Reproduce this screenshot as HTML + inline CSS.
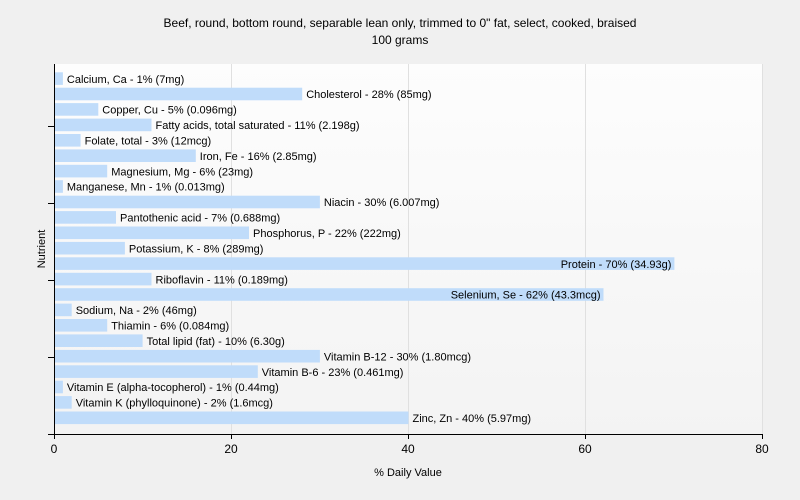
<!DOCTYPE html>
<html><head><meta charset="utf-8"><style>body{margin:0;background:#f0f0f0}svg{display:block;font-family:"Liberation Sans",sans-serif}</style></head><body>
<svg width="800" height="500" xmlns="http://www.w3.org/2000/svg">
<defs><linearGradient id="g" x1="0" y1="0" x2="0" y2="1"><stop offset="0" stop-color="#fdfdfd"/><stop offset="1" stop-color="#f3f3f3"/></linearGradient></defs>
<rect width="800" height="500" fill="#f0f0f0"/>
<rect x="54" y="64" width="709" height="370" fill="url(#g)"/>
<g stroke="#e0e0e0" stroke-width="1">
<line x1="231.5" y1="64" x2="231.5" y2="434"/><line x1="408.5" y1="64" x2="408.5" y2="434"/><line x1="585.5" y1="64" x2="585.5" y2="434"/><line x1="762.5" y1="64" x2="762.5" y2="434"/>
</g>
<text x="400" y="27" font-size="12" text-anchor="middle" fill="#000">Beef, round, bottom round, separable lean only, trimmed to 0" fat, select, cooked, braised</text>
<text x="400" y="44" font-size="12" text-anchor="middle" fill="#000">100 grams</text>
<g fill="#c0dcfa">
<rect x="55" y="72.3" width="7.9" height="12.6"/>
<rect x="55" y="87.7" width="247.2" height="12.6"/>
<rect x="55" y="103.1" width="43.3" height="12.6"/>
<rect x="55" y="118.6" width="96.5" height="12.6"/>
<rect x="55" y="134.0" width="25.6" height="12.6"/>
<rect x="55" y="149.4" width="140.8" height="12.6"/>
<rect x="55" y="164.8" width="52.2" height="12.6"/>
<rect x="55" y="180.2" width="7.9" height="12.6"/>
<rect x="55" y="195.7" width="264.9" height="12.6"/>
<rect x="55" y="211.1" width="61.0" height="12.6"/>
<rect x="55" y="226.5" width="194.0" height="12.6"/>
<rect x="55" y="241.9" width="69.9" height="12.6"/>
<rect x="55" y="257.3" width="619.4" height="12.6"/>
<rect x="55" y="272.8" width="96.5" height="12.6"/>
<rect x="55" y="288.2" width="548.5" height="12.6"/>
<rect x="55" y="303.6" width="16.7" height="12.6"/>
<rect x="55" y="319.0" width="52.2" height="12.6"/>
<rect x="55" y="334.4" width="87.6" height="12.6"/>
<rect x="55" y="349.9" width="264.9" height="12.6"/>
<rect x="55" y="365.3" width="202.8" height="12.6"/>
<rect x="55" y="380.7" width="7.9" height="12.6"/>
<rect x="55" y="396.1" width="16.7" height="12.6"/>
<rect x="55" y="411.5" width="353.5" height="12.6"/>
</g>
<g font-size="11" fill="#000">
<text x="66.9" y="82.8">Calcium, Ca - 1% (7mg)</text>
<text x="306.2" y="98.2">Cholesterol - 28% (85mg)</text>
<text x="102.3" y="113.6">Copper, Cu - 5% (0.096mg)</text>
<text x="155.5" y="129.1">Fatty acids, total saturated - 11% (2.198g)</text>
<text x="84.6" y="144.5">Folate, total - 3% (12mcg)</text>
<text x="199.8" y="159.9">Iron, Fe - 16% (2.85mg)</text>
<text x="111.2" y="175.3">Magnesium, Mg - 6% (23mg)</text>
<text x="66.9" y="190.7">Manganese, Mn - 1% (0.013mg)</text>
<text x="323.9" y="206.2">Niacin - 30% (6.007mg)</text>
<text x="120.0" y="221.6">Pantothenic acid - 7% (0.688mg)</text>
<text x="253.0" y="237.0">Phosphorus, P - 22% (222mg)</text>
<text x="128.9" y="252.4">Potassium, K - 8% (289mg)</text>
<text x="671.4" y="267.8" text-anchor="end">Protein - 70% (34.93g)</text>
<text x="155.5" y="283.3">Riboflavin - 11% (0.189mg)</text>
<text x="600.5" y="298.7" text-anchor="end">Selenium, Se - 62% (43.3mcg)</text>
<text x="75.7" y="314.1">Sodium, Na - 2% (46mg)</text>
<text x="111.2" y="329.5">Thiamin - 6% (0.084mg)</text>
<text x="146.6" y="344.9">Total lipid (fat) - 10% (6.30g)</text>
<text x="323.9" y="360.4">Vitamin B-12 - 30% (1.80mcg)</text>
<text x="261.8" y="375.8">Vitamin B-6 - 23% (0.461mg)</text>
<text x="66.9" y="391.2">Vitamin E (alpha-tocopherol) - 1% (0.44mg)</text>
<text x="75.7" y="406.6">Vitamin K (phylloquinone) - 2% (1.6mcg)</text>
<text x="412.5" y="422.0">Zinc, Zn - 40% (5.97mg)</text>
</g>
<g stroke="#000" stroke-width="1">
<line x1="54.5" y1="64" x2="54.5" y2="434"/><line x1="48" y1="434.5" x2="763" y2="434.5"/>
<line x1="48" y1="126.5" x2="54" y2="126.5"/><line x1="48" y1="203.5" x2="54" y2="203.5"/><line x1="48" y1="280.5" x2="54" y2="280.5"/><line x1="48" y1="357.5" x2="54" y2="357.5"/>
<line x1="54.5" y1="434" x2="54.5" y2="439"/><line x1="231.5" y1="434" x2="231.5" y2="439"/><line x1="408.5" y1="434" x2="408.5" y2="439"/><line x1="585.5" y1="434" x2="585.5" y2="439"/><line x1="762.5" y1="434" x2="762.5" y2="439"/>
</g>
<g font-size="12" text-anchor="middle" fill="#000">
<text x="54" y="453">0</text><text x="231" y="453">20</text><text x="408" y="453">40</text><text x="585" y="453">60</text><text x="762" y="453">80</text>
<text x="408" y="476" font-size="11">% Daily Value</text>
<text x="0" y="0" font-size="11" transform="translate(45,249) rotate(-90)">Nutrient</text>
</g>
</svg>
</body></html>
